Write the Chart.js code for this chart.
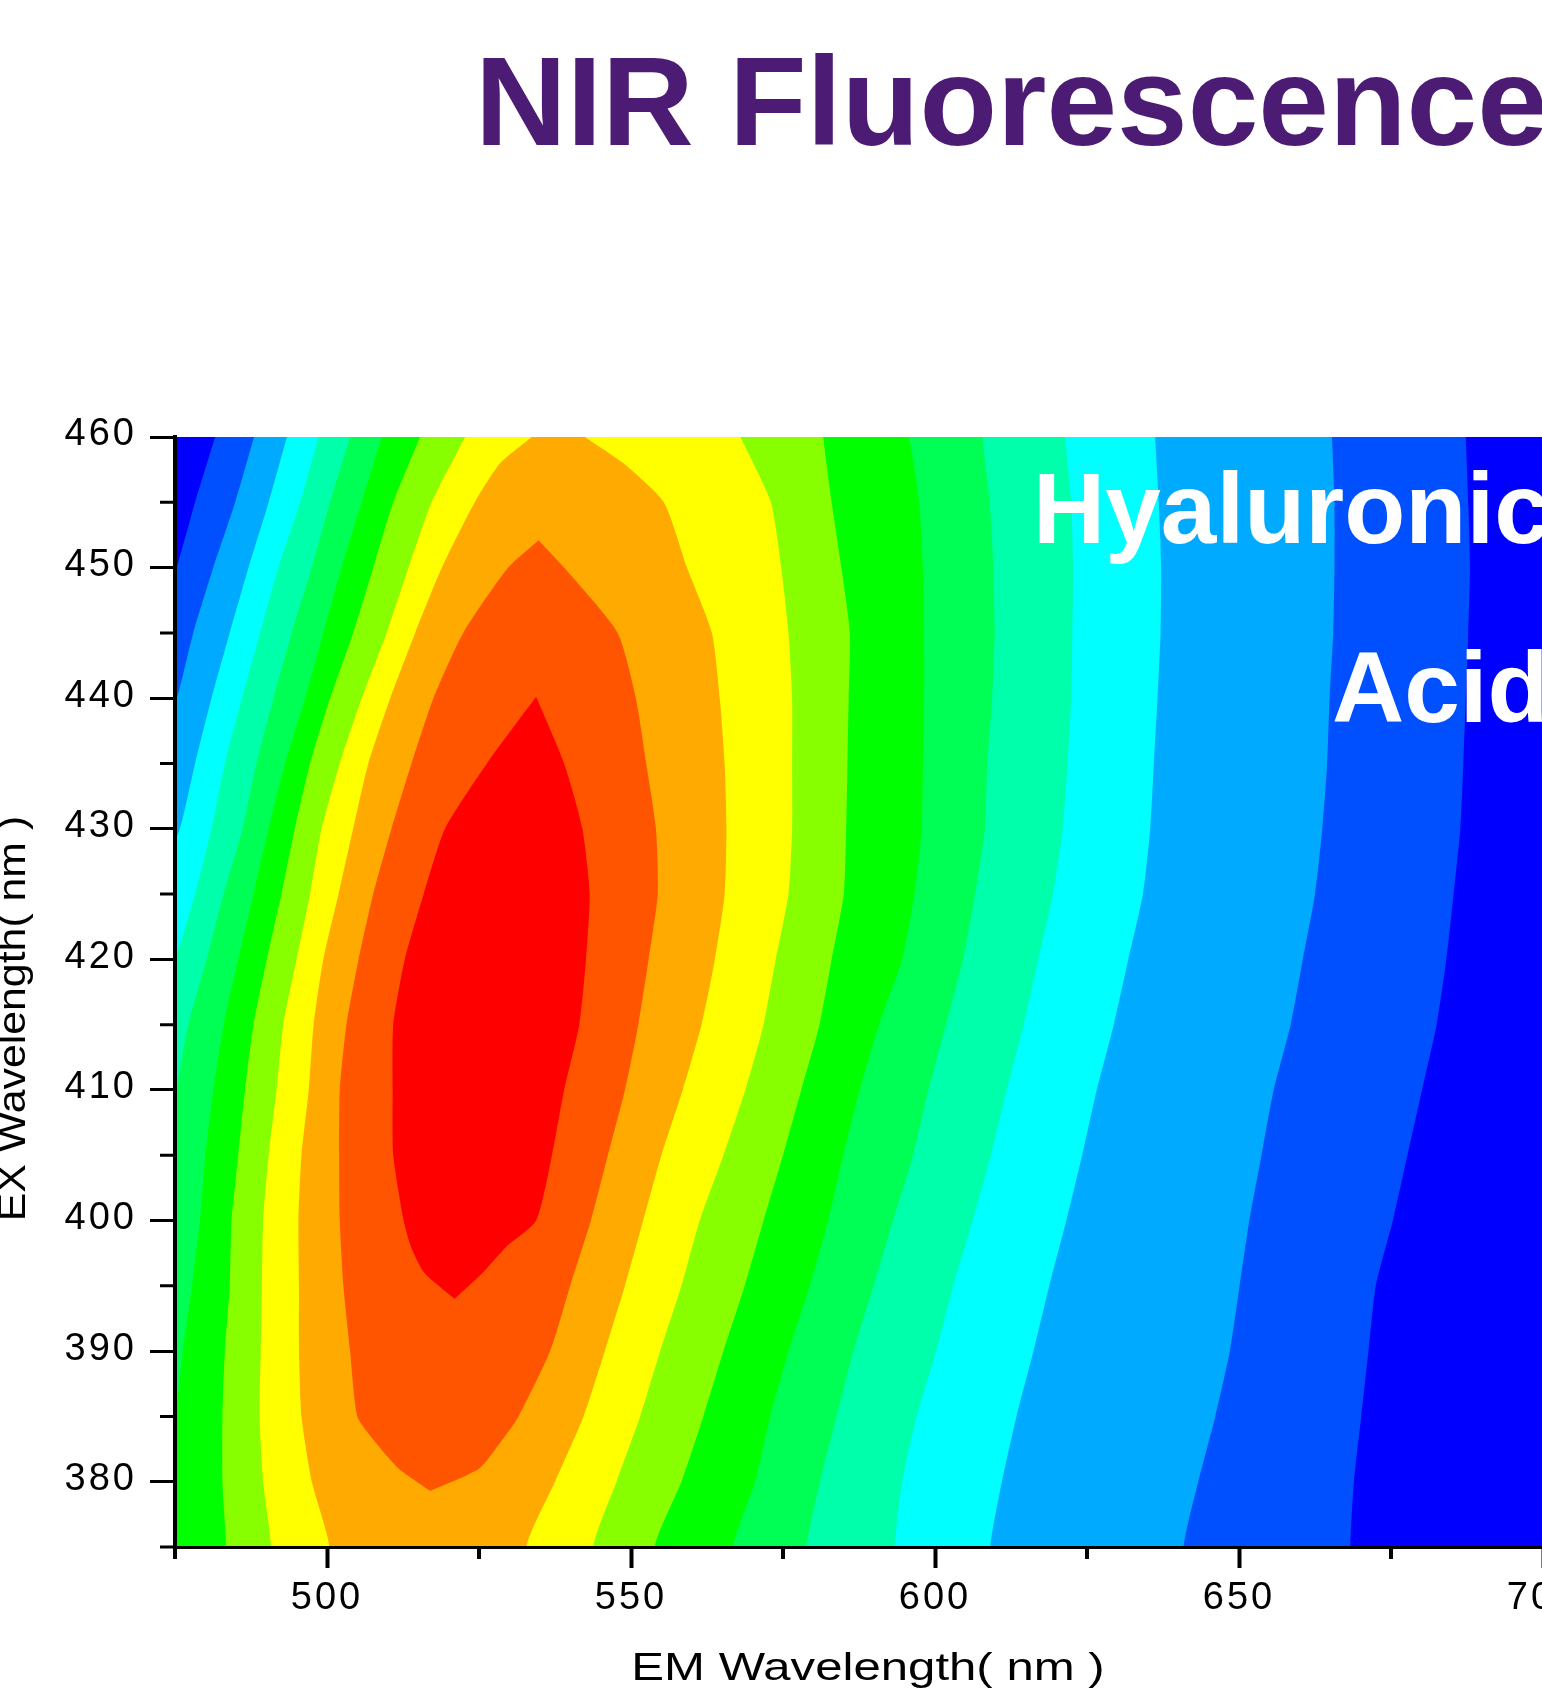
<!DOCTYPE html>
<html>
<head>
<meta charset="utf-8">
<title>NIR Fluorescence</title>
<script src="https://cdn.jsdelivr.net/npm/chart.js@4"></script>
<style>
  html, body { margin: 0; padding: 0; background: #fff; }
  #wrap { position: relative; width: 1542px; height: 1694px; overflow: hidden; }
  canvas { display: block; }
</style>
</head>
<body>
<div id="wrap"><canvas id="contour" width="1543" height="1694"></canvas></div>
<script>
// excitation rows the contour edges were read at (nm)
const exRows = [460, 455, 450, 445, 440, 435, 430, 425, 420, 415, 410, 405, 400, 395, 390, 385, 380, 375]

// emission wavelength of each contour edge at those rows, 470 means off the plot to the left
const blue1Left = [481.6, 478.3, 475.3, 472, 470, 470, 470, 470, 470, 470, 470, 470, 470, 470, 470, 470, 470, 470]
const blue1Right = [687.3, 687.7, 688, 687.7, 687.3, 686.9, 686.4, 685.3, 684.1, 682.5, 680.1, 677.7, 675.3, 672.5, 671.3, 670.1, 668.9, 668.3]
const blue2Left = [488, 484.9, 481.3, 478, 475.3, 471, 470, 470, 470, 470, 470, 470, 470, 470, 470, 470, 470, 470]
const blue2Right = [665.3, 665.7, 665.7, 665.5, 664.9, 664.5, 663.7, 662.5, 660.5, 658.5, 655.7, 653.7, 651.7, 650.1, 648.5, 646.1, 643.3, 640.9]
const cyanLeft = [493.4, 490.4, 487.1, 484, 481, 478.3, 475.8, 471.5, 470, 470, 470, 470, 470, 470, 470, 470, 470, 470]
const cyanRight = [636.2, 636.8, 637.2, 637.1, 636.6, 636, 635.4, 634.2, 631.8, 629.4, 626.6, 624.2, 621.6, 618.8, 616.2, 613.4, 611, 609.1]
const mintLeft = [498.6, 495.6, 492, 489, 486, 483.2, 481, 478.3, 475, 470, 470, 470, 470, 470, 470, 470, 470, 470]
const mintRight = [621.4, 622.4, 622.7, 622.6, 622.4, 621.8, 621, 619.4, 617, 614.6, 611.8, 609.2, 606.2, 603, 600.2, 597, 594.6, 593.4]
const springLeft = [503.8, 500.5, 497.5, 494.2, 491.2, 488.4, 486.1, 483, 480.2, 477.2, 475.3, 474.7, 470, 470, 470, 470, 470, 470]
const springRight = [607.8, 609, 609.6, 609.8, 609.4, 608.6, 608.2, 606.6, 604.6, 601.8, 598.9, 596.4, 593.1, 589.9, 586.6, 583.8, 581.1, 578.9]
const greenLeft = [509, 505.7, 502.4, 499.4, 496.4, 493.1, 490.4, 487.9, 485.4, 483, 481.3, 480, 479.1, 477.8, 476.3, 475.1, 474, 471]
const greenRight = [595.8, 597.4, 598, 598.2, 598.2, 598, 597.8, 596.6, 594.6, 590.8, 587.6, 584.9, 582.4, 579.4, 575.9, 572.9, 570.4, 566.8]
const limeLeft = [515.3, 510.9, 507.6, 504.3, 500.5, 497.2, 494.7, 492.5, 490.1, 487.9, 486.5, 485.4, 484.3, 484, 483.2, 482.8, 482.8, 483.4]
const limeRight = [581.6, 583, 584.6, 586, 585.8, 585.6, 585.4, 585, 583, 581, 578, 575, 571.8, 568.7, 565.2, 561.9, 558.3, 553.9]
const yellowLeft = [522.7, 517.2, 513.4, 509.8, 505.7, 502.1, 499.1, 497.2, 495, 492.8, 491.7, 490.4, 489.5, 489.3, 489.1, 488.9, 489.5, 490.8]
const yellowRight = [568, 573, 574.7, 575.9, 576.5, 576.5, 576.5, 575.9, 573.8, 571.8, 568.8, 565.2, 561.3, 558.3, 554.8, 551.5, 547.6, 543.8]

// the orange dome needs one more row near the top
const orangeEx = [460, 458, 455, 450, 445, 440, 435, 430, 425, 420, 415, 410, 405, 400, 395, 390, 385, 380, 375]
const orangeLeft = [533.7, 528.5, 524.3, 518.9, 514.5, 510.4, 506.8, 504.3, 501.9, 499.4, 497.8, 497, 495.8, 495.3, 495.4, 495.4, 495.8, 497.5, 500.4]
const orangeRight = [542.4, 548.7, 555.4, 559.2, 563.3, 564.6, 565.4, 565.7, 565.4, 563.8, 561.6, 558.5, 555, 552, 549, 545.7, 542.2, 537.5, 532.8]

// the two inner contours close inside the plot, so they have their own rows
const darkOrangeEx = [452.1, 450, 445, 440, 435, 430, 425, 420, 415, 410, 405, 400, 395, 390, 385, 383, 381, 379.3]
const darkOrangeLeft = [534.8, 529.8, 522.4, 517.5, 513.9, 510.6, 507.6, 505.2, 503.2, 502.1, 502, 502.1, 502.7, 503.8, 505, 508, 511.8, 517]
const darkOrangeRight = [534.8, 539, 547.8, 550.8, 552.5, 554.1, 554.4, 552.9, 551.2, 549, 546.2, 543.4, 540, 536.7, 531.5, 528.5, 525, 517]
const redEx = [440.1, 435, 430, 425, 420, 415, 410, 405, 400, 398, 396, 394]
const redLeft = [534.4, 526.3, 519.4, 515.9, 512.8, 510.9, 510.8, 510.9, 512.6, 513.8, 516, 521]
const redRight = [534.4, 539, 542, 543.2, 542.6, 541.5, 539, 537, 534.4, 529.5, 525.6, 521]

const levelColors = ["#0050ff", "#00aaff", "#00ffff", "#00ffaa", "#00ff55", "#00ff00", "#88ff00", "#ffff00", "#ffaa00", "#ff5500", "#ff0000"]

const xRange = [475, 700]
const yRange = [375, 460]
const xMinorTicks = [475, 525, 575, 625, 675]
const yMinorTicks = [375, 385, 395, 405, 415, 425, 435, 445, 455]

function contour(ex, left, right) {
  const last = ex.length - 1
  const pts = ex.map((y, i) => ({ x: left[i], y: y }))
  // edges that run out through the bottom axis get closed under the plot, so the spline stays straight at the axis
  if (ex[last] === yRange[0]) {
    pts.push({ x: left[last], y: yRange[0] - 10 })
    pts.push({ x: right[last], y: yRange[0] - 10 })
  }
  for (let i = last; i >= 0; i--) pts.push({ x: right[i], y: ex[i] })
  return pts
}

const levels = [
  contour(exRows, blue1Left, blue1Right),
  contour(exRows, blue2Left, blue2Right),
  contour(exRows, cyanLeft, cyanRight),
  contour(exRows, mintLeft, mintRight),
  contour(exRows, springLeft, springRight),
  contour(exRows, greenLeft, greenRight),
  contour(exRows, limeLeft, limeRight),
  contour(exRows, yellowLeft, yellowRight),
  contour(orangeEx, orangeLeft, orangeRight),
  contour(darkOrangeEx, darkOrangeLeft, darkOrangeRight),
  contour(redEx, redLeft, redRight),
]

function band(data, color) {
  return { data: data, backgroundColor: color, fill: "shape", borderWidth: 0, pointRadius: 0, tension: 0.2 }
}

// first dataset ends up on top, so the red core goes first and the blue floor last
const datasets = levels.map((lvl, i) => band(lvl, levelColors[i])).reverse()
datasets.push(band(contour(yRange.slice().reverse(), [xRange[0], xRange[0]], [xRange[1], xRange[1]]), "#0000ff"))

function stretchedText(ctx, text, x, y, font, color, sx, rotation) {
  ctx.save()
  ctx.translate(x, y)
  ctx.rotate(rotation)
  ctx.scale(sx, 1)
  ctx.font = font
  ctx.fillStyle = color
  ctx.textAlign = "center"
  ctx.textBaseline = "alphabetic"
  ctx.fillText(text, 0, 0)
  ctx.restore()
}

// the reference digits are wider than Liberation Sans, spacing them out gets close
const wideTicks = {
  id: "wideTicks",
  beforeDraw(chart) {
    chart.ctx.letterSpacing = "3px"
  },
}

// chart.js has one tick length per axis, the short ticks are added here
const minorTicks = {
  id: "minorTicks",
  afterDraw(chart) {
    const { ctx, scales } = chart
    ctx.save()
    ctx.strokeStyle = "#000"
    ctx.lineWidth = 4
    ctx.beginPath()
    xMinorTicks.forEach((v) => {
      const px = scales.x.getPixelForValue(v)
      ctx.moveTo(px, scales.x.top)
      ctx.lineTo(px, scales.x.top + 12)
    })
    ctx.stroke()
    ctx.lineWidth = 3
    ctx.beginPath()
    yMinorTicks.forEach((v) => {
      const py = scales.y.getPixelForValue(v)
      ctx.moveTo(scales.y.right, py)
      ctx.lineTo(scales.y.right - 15, py)
    })
    ctx.stroke()
    ctx.restore()
  },
}

const captions = {
  id: "captions",
  afterDraw(chart) {
    const ctx = chart.ctx
    ctx.letterSpacing = "0px"
    ctx.save()
    ctx.textAlign = "left"
    ctx.textBaseline = "alphabetic"
    ctx.fillStyle = "#4c1b74"
    ctx.font = "bold 127px 'Liberation Sans'"
    ctx.fillText("NIR Fluorescence", 475, 145)
    ctx.fillStyle = "#fff"
    ctx.font = "bold 100px 'Liberation Sans'"
    ctx.fillText("Hyaluronic", 1033, 543)
    ctx.fillText("Acid", 1332, 722)
    ctx.restore()
    stretchedText(ctx, "EM Wavelength( nm )", 868, 1680, "39px 'Liberation Sans'", "#000", 1.26, 0)
    stretchedText(ctx, "EX Wavelength( nm )", 25, 1018.5, "38px 'Liberation Sans'", "#000", 1.127, -Math.PI / 2)
  },
}

function fixedBox(size) {
  return (scale) => {
    if (scale.isHorizontal()) scale.height = size
    else scale.width = size
    scale.paddingLeft = scale.paddingRight = scale.paddingTop = scale.paddingBottom = 0
  }
}

new Chart(document.getElementById("contour"), {
  type: "line",
  data: { datasets: datasets },
  plugins: [wideTicks, minorTicks, captions],
  options: {
    responsive: false,
    animation: false,
    events: [],
    layout: { padding: { top: 437, left: 0, right: 0, bottom: 0 } },
    plugins: { legend: { display: false }, tooltip: { enabled: false } },
    scales: {
      x: {
        type: "linear",
        min: xRange[0],
        max: xRange[1],
        afterFit: fixedBox(147),
        border: { color: "#000", width: 3, z: 1 },
        grid: { drawOnChartArea: false, tickLength: 21, tickWidth: 4, tickColor: "#000" },
        ticks: {
          stepSize: 50,
          includeBounds: false,
          maxRotation: 0,
          autoSkip: false,
          padding: 8,
          color: "#000",
          font: { family: "'Liberation Sans'", size: 38 },
        },
      },
      y: {
        type: "linear",
        min: yRange[0],
        max: yRange[1],
        afterFit: fixedBox(175),
        border: { color: "#000", width: 4, z: 1 },
        grid: { drawOnChartArea: false, tickLength: 25, tickWidth: 3, tickColor: "#000" },
        ticks: {
          stepSize: 10,
          includeBounds: false,
          autoSkip: false,
          padding: 13,
          labelOffset: -2,
          color: "#000",
          font: { family: "'Liberation Sans'", size: 38 },
        },
      },
    },
  },
})
</script>
</body>
</html>
